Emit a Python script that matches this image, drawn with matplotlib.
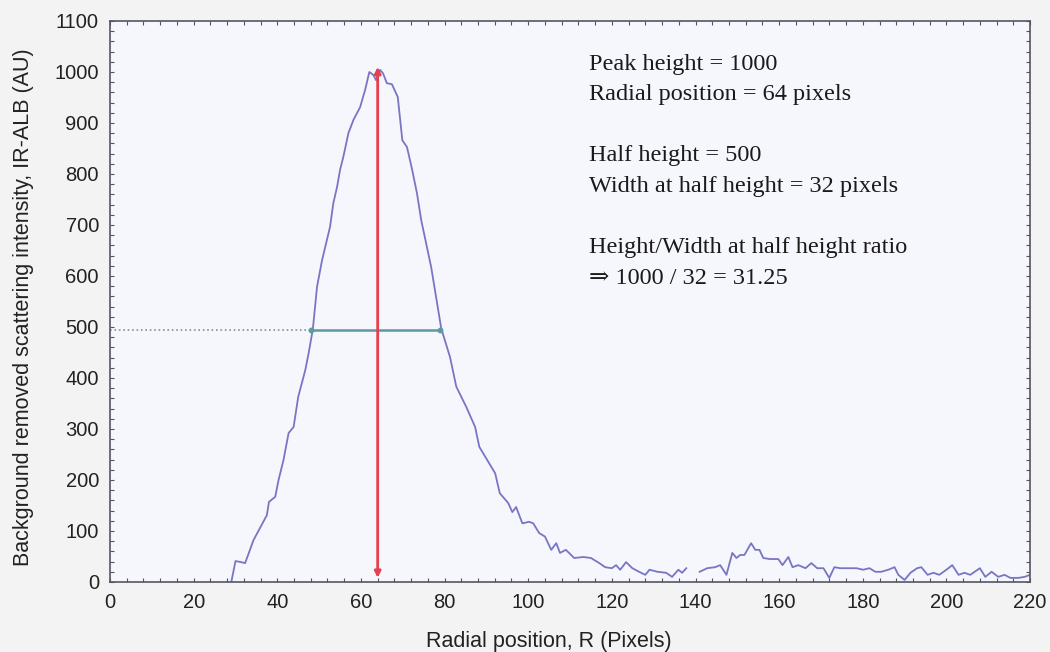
import numpy as np
import matplotlib
matplotlib.use("Agg")
import matplotlib.pyplot as plt
from matplotlib.ticker import MultipleLocator

# radial profile (NaN = gap in the trace)
radius = [29, 30, 31.3, 32.3, 34.3, 36, 37.5, 38, 39.5, 40.3, 41.5, 42.7, 43.9, 45, 46.7,
          47.5, 48.5, 49.5, 50.7, 52.6, 53.4, 54.3, 55, 55.8, 57, 58.2, 59.8, 61, 62, 63,
          63.6, 64.6, 65.3, 66.2, 67.4, 68.8, 69.9, 71, 72.2, 73.4, 74.4, 76.8, 79.2, 81.3,
          82.8, 85.2, 87.3, 88.3, 90.2, 92.1, 93.2, 95.2, 96.2, 97.1, 98.6, 100.2, 101.2,
          102.6, 104, 105.5, 106.7, 107.6, 109, 111, 113.2, 115, 117, 118.4, 120, 121, 122,
          123.4, 124.9, 126.5, 128, 129, 130.9, 133, 134.4, 135.9, 136.8, 137.8, 139, 141,
          142.8, 144.7, 145.9, 147.4, 148.8, 149.8, 150.7, 151.7, 153.3, 154.3, 155.3, 156.2,
          157.7, 159.8, 160.8, 162.2, 163.2, 164.6, 166.3, 167.7, 169.1, 170.6, 172, 173.2,
          174.6, 176.6, 178.5, 180.1, 181.6, 183, 184.4, 186.1, 187.6, 188.5, 190, 191.4,
          193, 194, 195.5, 196.9, 198.3, 200, 201.4, 202.9, 204.3, 205.7, 208, 209.3, 210.8,
          212.4, 213.9, 215.3, 217.2, 218.7, 220]
intensity = [0, 41, 39, 37, 82, 108, 131, 157, 167, 200, 240, 292, 304, 363, 416,
             449, 496, 579, 631, 696, 743, 775, 808, 834, 880, 906, 931, 965, 1000, 994,
             984, 1004, 997, 978, 976, 951, 866, 853, 810, 762, 710, 617, 497, 441,
             383, 343, 304, 265, 239, 213, 174, 155, 137, 147, 115, 118, 115,
             96, 89, 63, 76, 57, 63, 47, 49, 47, 37, 29, 27, 33, 24,
             39, 27, 20, 14, 24, 20, 18, 10, 24, 18, 27, np.nan, 20,
             27, 29, 33, 14, 57, 47, 53, 53, 76, 63, 63, 47,
             45, 45, 33, 49, 29, 33, 27, 37, 27, 27, 8, 29,
             27, 27, 27, 24, 27, 20, 20, 24, 29, 14, 4, 18,
             27, 29, 14, 18, 14, 24, 33, 14, 18, 14, 27, 10, 20,
             10, 14, 8, 8, 10, 14]

peak_x = 64
peak_y = 1010
half_y = 495
half_left = 48
half_right = 79

notes = ("Peak height = 1000\nRadial position = 64 pixels\n\n"
         "Half height = 500\nWidth at half height = 32 pixels\n\n"
         "Height/Width at half height ratio\n\u21d2 1000 / 32 = 31.25")

fig = plt.figure(figsize=(10.5, 6.52), dpi=100, facecolor="#f3f3f3")
ax = fig.add_axes([0.1048, 0.1074, 0.8762, 0.8604])
ax.set_facecolor("#f6f6fd")

ax.plot(radius, intensity, color="#7876c2", lw=1.3)

# half height guides
ax.plot([0, half_left], [half_y, half_y], ":", color="#8a8a9a", lw=1.2)
ax.plot([half_left, half_right], [half_y, half_y], color="#5e9aa2", lw=1.8,
        marker="o", ms=3.2)

# peak position arrow
ax.annotate("", xy=(peak_x, 8), xytext=(peak_x, peak_y),
            arrowprops=dict(arrowstyle="<|-|>", color="#e4404e", lw=2,
                            mutation_scale=9, shrinkA=0, shrinkB=0))

ax.text(114.6, 1036, notes, va="top", ha="left", fontsize=17.5,
        family=["Liberation Serif", "DejaVu Serif"], linespacing=1.6, color="#1a1a1a")

ax.set_xlim(0, 220)
ax.set_ylim(0, 1100)
ax.xaxis.set_major_locator(MultipleLocator(20))
ax.xaxis.set_minor_locator(MultipleLocator(4))
ax.yaxis.set_major_locator(MultipleLocator(100))
ax.yaxis.set_minor_locator(MultipleLocator(20))
ax.tick_params(which="both", direction="in", top=True, right=True,
               length=3, width=0.8, color="#555555")
ax.tick_params(which="major", labelsize=14.5, labelcolor="#222222", pad=8)
for lab in ax.get_xticklabels() + ax.get_yticklabels():
    lab.set_family("Liberation Sans")
for sp in ax.spines.values():
    sp.set_color("#555566")
    sp.set_linewidth(1.2)

ax.set_xlabel("Radial position, R (Pixels)", fontsize=15.5,
              family="Liberation Sans", color="#222222")
ax.set_ylabel("Background removed scattering intensity, IR-ALB (AU)", fontsize=15.5,
              family="Liberation Sans", color="#222222")
ax.xaxis.set_label_coords(0.477, -0.087)
ax.yaxis.set_label_coords(-0.083, 0.49)

fig.savefig("out.png", dpi=100, facecolor=fig.get_facecolor())
